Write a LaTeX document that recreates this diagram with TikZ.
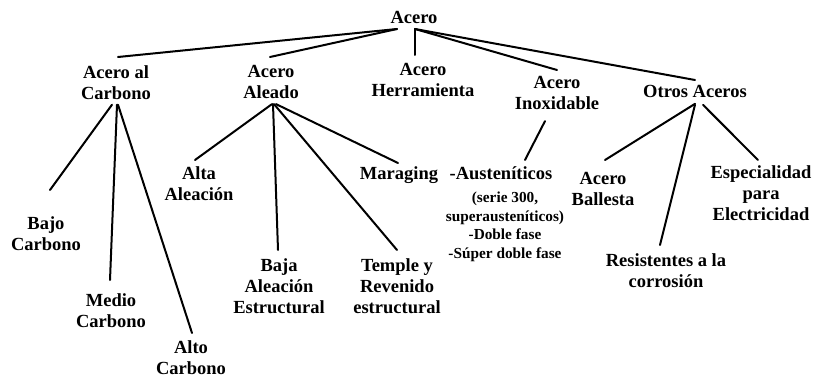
\documentclass[tikz,border=0pt]{standalone}
\usepackage{fontspec}
\setmainfont{Liberation Serif}
\newlength{\du}
\setlength{\du}{1pt}
\tikzset{
  rama/.style={line width=2\du, line cap=round},
  tipo/.style={anchor=north, inner sep=0pt, align=center,
    font=\fontsize{18.5}{21.3}\selectfont\bfseries},
  nota/.style={tipo, font=\fontsize{15.3}{18.5}\selectfont\bfseries},
}
\begin{document}
\begin{tikzpicture}[x=\du, y=-\du]
\useasboundingbox (0,0) rectangle (814,377);
% raiz
\node[tipo] (acero) at (414,11.5) {Acero};
% primer nivel
\node[tipo] (carbono) at (116,65) {Acero al\\Carbono};
\node[tipo] (aleado) at (271,65) {Acero\\Aleado};
\node[tipo] (herramienta) at (423,63) {Acero\\Herramienta};
\node[tipo] (inoxidable) at (557,76) {Acero\\Inoxidable};
\node[tipo] (otros) at (695,85) {Otros Aceros};
% acero al carbono
\node[tipo] (bajo) at (46,216) {Bajo\\Carbono};
\node[tipo] (medio) at (111,293) {Medio\\Carbono};
\node[tipo] (alto) at (191,340) {Alto\\Carbono};
% acero aleado
\node[tipo] (alta) at (199,166) {Alta\\Aleación};
\node[tipo] (baja) at (279,258) {Baja\\Aleación\\Estructural};
\node[tipo] (temple) at (397,258) {Temple y\\Revenido\\estructural};
\node[tipo] (maraging) at (399,166) {Maraging};
% acero inoxidable
\node[tipo] (austen) at (501,166) {-Austeníticos};
\node[nota] (austenlista) at (505,192) {(serie 300,\\superausteníticos)\\-Doble fase\\-Súper doble fase};
% otros aceros
\node[tipo] (ballesta) at (603,172) {Acero\\Ballesta};
\node[tipo] (resistentes) at (666,253) {Resistentes a la\\corrosión};
\node[tipo] (electricidad) at (761,165) {Especialidad\\para\\Electricidad};
% ramas desde la raiz
\coordinate (raizL) at ([xshift=-17\du,yshift=-4.7\du]acero.south);
\coordinate (raizR) at ([xshift=1\du,yshift=-4.7\du]acero.south);
\draw[rama] (raizL) -- ([xshift=2\du,yshift=8\du]carbono.north);
\draw[rama] (raizL) -- ([xshift=-1\du,yshift=8\du]aleado.north);
\draw[rama] (raizR) -- ([xshift=-8\du,yshift=8\du]herramienta.north);
\draw[rama] (raizR) -- ([yshift=6\du]inoxidable.north);
\draw[rama] (raizR) -- ([yshift=5\du]otros.north);
% ramas del acero al carbono
\draw[rama] ([xshift=-4\du,yshift=-5\du]carbono.south) -- ([xshift=4\du,yshift=26\du]bajo.north);
\draw[rama] ([xshift=1\du,yshift=-5\du]carbono.south) -- ([xshift=-1\du,yshift=13\du]medio.north);
\draw[rama] ([xshift=2\du,yshift=-5\du]carbono.south) -- ([xshift=1\du,yshift=7\du]alto.north);
% ramas del acero aleado
\draw[rama] ([xshift=1\du,yshift=-5\du]aleado.south) -- ([xshift=-4\du,yshift=6\du]alta.north);
\draw[rama] ([xshift=2\du,yshift=-5\du]aleado.south) -- ([xshift=-1\du,yshift=8\du]baja.north);
\draw[rama] ([xshift=3\du,yshift=-5\du]aleado.south) -- ([yshift=8\du]temple.north);
\draw[rama] ([xshift=5\du,yshift=-5\du]aleado.south) -- ([xshift=-1\du,yshift=3\du]maraging.north);
% rama del inoxidable
\draw[rama] ([xshift=-12\du,yshift=-11\du]inoxidable.south) -- ([xshift=24\du,yshift=6\du]austen.north);
% ramas de otros aceros
\draw[rama] ([yshift=-6\du]otros.south) -- ([xshift=2\du,yshift=12\du]ballesta.north);
\draw[rama] ([yshift=-7\du]otros.south) -- ([xshift=-6\du,yshift=8\du]resistentes.north);
\draw[rama] ([xshift=8\du,yshift=-7\du]otros.south) -- ([xshift=-3\du,yshift=5\du]electricidad.north);
\end{tikzpicture}
\end{document}
